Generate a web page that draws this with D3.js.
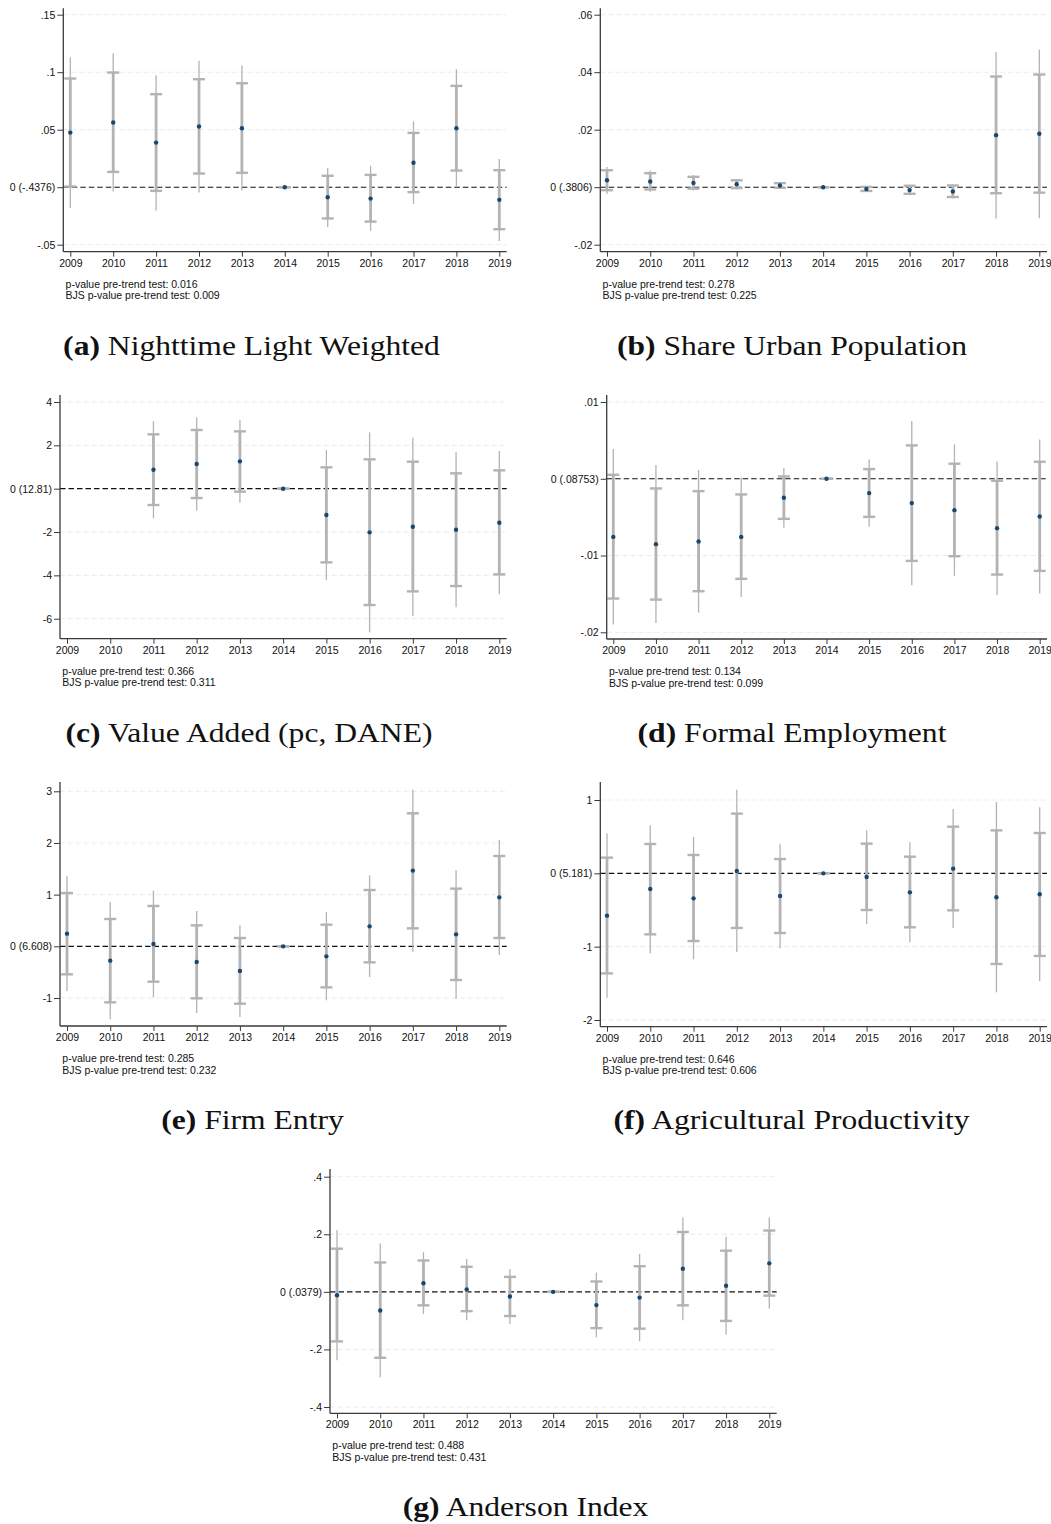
<!DOCTYPE html>
<html><head><meta charset="utf-8">
<script src="https://cdn.jsdelivr.net/npm/d3@7"></script>
<style>body{margin:0;background:#fff} svg{display:block}</style>
</head><body>
<svg id="chart" width="1051" height="1524"></svg>
<script>
const years = [2009,2010,2011,2012,2013,2014,2015,2016,2017,2018,2019];

// (a) Nighttime Light Weighted
const aCoef  = [0.0475,0.0562,0.0388,0.0528,0.0513,0,-0.0087,-0.0099,0.0212,0.0513,-0.0110];
const aInHi  = [0.0945,0.0997,0.0809,0.0939,0.0904,0,0.0099,0.0107,0.0472,0.0881,0.0148];
const aInLo  = [0.0006,0.0133,-0.0032,0.0119,0.0125,0,-0.0272,-0.0299,-0.0043,0.0145,-0.0365];
const aOutHi = [0.1130,0.1165,0.0974,0.1100,0.1058,0,0.0168,0.0186,0.0571,0.1026,0.0246];
const aOutLo = [-0.0180,-0.0038,-0.0203,-0.0046,-0.0029,0,-0.0345,-0.0380,-0.0145,0.0000,-0.0467];
const aTicks = [0.15,0.1,0.05,0,-0.05];
const aTickLabels = [".15",".1",".05","0 (-.4376)","-.05"];

// (b) Share Urban Population
const bCoef  = [0.00243,0.00197,0.0015,0.00104,0.0006,0,-0.0006,-0.0010,-0.0015,0.0181,0.0186];
const bInHi  = [0.0059,0.00487,0.0036,0.0024,0.0014,0,0.0001,0.0005,0.0006,0.0385,0.0392];
const bInLo  = [-0.00104,-0.0008,-0.0005,-0.0003,-0.0002,0,-0.0013,-0.0023,-0.0034,-0.0021,-0.0019];
const bOutHi = [0.0070,0.0058,0.0042,0.0028,0.0016,0,0.0003,0.0008,0.0009,0.0470,0.0479];
const bOutLo = [-0.0023,-0.0017,-0.0012,-0.0007,-0.0005,0,-0.0015,-0.0028,-0.0039,-0.0109,-0.0108];
const bTicks = [0.06,0.04,0.02,0,-0.02];
const bTickLabels = [".06",".04",".02","0 (.3806)","-.02"];

// (c) Value Added (pc, DANE)
const cCoef  = [null,null,0.877,1.138,1.262,0,-1.215,-2.015,-1.754,-1.892,-1.569];
const cInHi  = [null,null,2.508,2.708,2.646,0,0.985,1.354,1.246,0.708,0.846];
const cInLo  = [null,null,-0.754,-0.431,-0.138,0,-3.400,-5.369,-4.738,-4.492,-3.954];
const cOutHi = [null,null,3.108,3.292,3.154,0,1.785,2.600,2.354,1.677,1.738];
const cOutLo = [null,null,-1.369,-1.015,-0.646,0,-4.215,-6.630,-5.877,-5.477,-4.877];
const cTicks = [4,2,0,-2,-4,-6];
const cTickLabels = ["4","2","0 (12.81)","-2","-4","-6"];

// (d) Formal Employment
const dCoef  = [-0.00757,-0.00852,-0.00817,-0.00757,-0.00248,0,-0.00187,-0.00317,-0.00409,-0.00643,-0.00491];
const dInHi  = [0.00052,-0.00126,-0.00161,-0.00204,0.0003,0,0.00126,0.00435,0.00196,-0.00026,0.00222];
const dInLo  = [-0.0156,-0.01574,-0.01465,-0.01304,-0.00522,0,-0.00496,-0.0107,-0.01009,-0.01248,-0.0120];
const dOutHi = [0.00387,0.00178,0.00113,0.00017,0.00139,0,0.00252,0.00752,0.00448,0.00226,0.00513];
const dOutLo = [-0.0190,-0.01878,-0.01743,-0.01539,-0.00639,0,-0.00626,-0.01387,-0.01265,-0.01513,-0.01496];
const dTicks = [0.01,0,-0.01,-0.02];
const dTickLabels = [".01","0 (.08753)","-.01","-.02"];

// (e) Firm Entry
const eCoef  = [0.245,-0.277,0.045,-0.303,-0.477,0,-0.194,0.387,1.465,0.232,0.948];
const eInHi  = [1.032,0.529,0.781,0.406,0.161,0,0.419,1.090,2.574,1.116,1.748];
const eInLo  = [-0.542,-1.084,-0.684,-1.006,-1.110,0,-0.794,-0.310,0.348,-0.652,0.161];
const eOutHi = [1.355,0.858,1.077,0.684,0.406,0,0.665,1.374,3.032,1.471,2.058];
const eOutLo = [-0.865,-1.413,-0.987,-1.290,-1.368,0,-1.045,-0.594,-0.103,-1.013,-0.168];
const eTicks = [3,2,1,0,-1];
const eTickLabels = ["3","2","1","0 (6.608)","-1"];

// (f) Agricultural Productivity
const fCoef  = [-0.577,-0.214,-0.341,0.032,-0.309,0,-0.050,-0.259,0.064,-0.327,-0.286];
const fInHi  = [0.214,0.400,0.250,0.814,0.195,0,0.405,0.227,0.636,0.586,0.550];
const fInLo  = [-1.364,-0.832,-0.923,-0.745,-0.814,0,-0.500,-0.736,-0.505,-1.236,-1.127];
const fOutHi = [0.545,0.655,0.495,1.141,0.405,0,0.586,0.423,0.877,0.973,0.900];
const fOutLo = [-1.695,-1.091,-1.173,-1.073,-1.023,0,-0.691,-0.941,-0.745,-1.623,-1.473];
const fTicks = [1,0,-1,-2];
const fTickLabels = ["1","0 (5.181)","-1","-2"];

// (g) Anderson Index
const gCoef  = [-0.0116,-0.0647,0.030,0.008,-0.016,0,-0.046,-0.020,0.080,0.021,0.099];
const gInHi  = [0.150,0.102,0.109,0.087,0.052,0,0.036,0.089,0.208,0.143,0.213];
const gInLo  = [-0.172,-0.229,-0.047,-0.067,-0.084,0,-0.126,-0.128,-0.047,-0.101,-0.013];
const gOutHi = [0.214,0.169,0.138,0.114,0.079,0,0.067,0.132,0.258,0.191,0.258];
const gOutLo = [-0.238,-0.297,-0.077,-0.099,-0.112,0,-0.158,-0.172,-0.099,-0.149,-0.058];
const gTicks = [0.4,0.2,0,-0.2,-0.4];
const gTickLabels = [".4",".2","0 (.0379)","-.2","-.4"];

const pvals    = ["0.016","0.278","0.366","0.134","0.285","0.646","0.488"];
const bjsPvals = ["0.009","0.225","0.311","0.099","0.232","0.606","0.431"];
const captionTags = ["(a)","(b)","(c)","(d)","(e)","(f)","(g)"];
const captionTexts = ["Nighttime Light Weighted","Share Urban Population","Value Added (pc, DANE)",
  "Formal Employment","Firm Entry","Agricultural Productivity","Anderson Index"];

const series = [
  [aCoef,aInLo,aInHi,aOutLo,aOutHi,aTicks,aTickLabels],
  [bCoef,bInLo,bInHi,bOutLo,bOutHi,bTicks,bTickLabels],
  [cCoef,cInLo,cInHi,cOutLo,cOutHi,cTicks,cTickLabels],
  [dCoef,dInLo,dInHi,dOutLo,dOutHi,dTicks,dTickLabels],
  [eCoef,eInLo,eInHi,eOutLo,eOutHi,eTicks,eTickLabels],
  [fCoef,fInLo,fInHi,fOutLo,fOutHi,fTicks,fTickLabels],
  [gCoef,gInLo,gInHi,gOutLo,gOutHi,gTicks,gTickLabels]
];

// layout (pixels)
const layouts = [
  {ax:63.3,  top:8.3,   bot:251.7,  yr:[244.7,14.7],  xr:[70.3,499.3],  right:506.7, capX:251.5, capY:355},
  {ax:600.3, top:8.3,   bot:251.7,  yr:[244.7,14.7],  xr:[607,1039.3],  right:1047,  capX:792,   capY:355},
  {ax:60,    top:395,   bot:638.7,  yr:[618.7,402],   xr:[67,499.3],    right:506.7, capX:249,   capY:742},
  {ax:606.7, top:395,   bot:639,    yr:[632.3,402],   xr:[613.3,1039.7],right:1047,  capX:792,   capY:742},
  {ax:60,    top:782,   bot:1026,   yr:[998,791.3],   xr:[67,499.3],    right:506.7, capX:252.5, capY:1129},
  {ax:600.3, top:782,   bot:1026.7, yr:[1020,800],    xr:[607,1039.7],  right:1047,  capX:791.5, capY:1129},
  {ax:330,   top:1169,  bot:1413.3, yr:[1407,1176.7], xr:[337,769.3],   right:776.7, capX:525.5, capY:1516}
];
const refCaptionWidthA = 377; // width of caption (a) in the reference, used for a uniform horizontal scale

const CI = "#b3b3b3", PT = "#1a476f", AXIS = "#3a3a3a";
const sans = "'Liberation Sans', Arial, Helvetica, sans-serif";
const svg = d3.select("#chart");
svg.append("rect").attr("width",1051).attr("height",1524).attr("fill","#fff");

const captionNodes = [];

series.forEach((s, k) => {
  const [coef, inLo, inHi, outLo, outHi, ticks, tickLabels] = s;
  const L = layouts[k];
  const g = svg.append("g");
  const x = d3.scaleLinear().domain([2009, 2019]).range(L.xr);
  const y = d3.scaleLinear().domain([d3.min(ticks), d3.max(ticks)]).range(L.yr);

  // gridlines
  g.selectAll(".grid").data(ticks.filter(t => t !== 0)).join("line")
    .attr("x1", L.ax).attr("x2", L.right)
    .attr("y1", d => y(d)).attr("y2", d => y(d))
    .attr("stroke", "#e6e6e6").attr("stroke-width", 0.8).attr("stroke-dasharray", "5,3");

  // zero line
  g.append("line").attr("x1", L.ax).attr("x2", L.right)
    .attr("y1", y(0)).attr("y2", y(0))
    .attr("stroke", "#111").attr("stroke-width", 1.15).attr("stroke-dasharray", "5.5,3");

  const idx = years.map((d, i) => i).filter(i => coef[i] !== null);

  // outer CI (thin)
  g.selectAll(".out").data(idx).join("line")
    .attr("x1", i => x(years[i])).attr("x2", i => x(years[i]))
    .attr("y1", i => y(outLo[i])).attr("y2", i => y(outHi[i]))
    .attr("stroke", CI).attr("stroke-width", 1.3);

  // inner CI (thick)
  g.selectAll(".in").data(idx).join("line")
    .attr("x1", i => x(years[i])).attr("x2", i => x(years[i]))
    .attr("y1", i => y(inLo[i])).attr("y2", i => y(inHi[i]))
    .attr("stroke", CI).attr("stroke-width", 2.8);

  // caps
  const caps = [];
  idx.forEach(i => { caps.push([years[i], inLo[i]]); caps.push([years[i], inHi[i]]); });
  g.selectAll(".cap").data(caps).join("line")
    .attr("x1", d => x(d[0]) - 6).attr("x2", d => x(d[0]) + 6)
    .attr("y1", d => y(d[1])).attr("y2", d => y(d[1]))
    .attr("stroke", CI).attr("stroke-width", 2.4);

  // points
  g.selectAll(".pt").data(idx).join("circle")
    .attr("cx", i => x(years[i])).attr("cy", i => y(coef[i]))
    .attr("r", 2.2).attr("fill", PT);

  // y axis
  const ya = g.append("g").attr("transform", `translate(${L.ax},0)`)
    .call(d3.axisLeft(y).tickValues(ticks).tickFormat((d, i) => tickLabels[i]).tickSize(6).tickPadding(2));
  ya.select(".domain").remove();
  ya.selectAll("line").attr("stroke", AXIS).attr("stroke-width", 1);
  ya.selectAll("text").attr("font-family", sans).attr("font-size", 10.5).attr("fill", "#111");
  g.append("line").attr("x1", L.ax).attr("x2", L.ax).attr("y1", L.top).attr("y2", L.bot)
    .attr("stroke", AXIS).attr("stroke-width", 1.3);

  // x axis
  const xa = g.append("g").attr("transform", `translate(0,${L.bot})`)
    .call(d3.axisBottom(x).tickValues(years).tickFormat(d3.format("d")).tickSize(5).tickPadding(2.5));
  xa.select(".domain").remove();
  xa.selectAll("line").attr("stroke", AXIS).attr("stroke-width", 1);
  xa.selectAll("text").attr("font-family", sans).attr("font-size", 10.5).attr("fill", "#111");
  g.append("line").attr("x1", L.ax).attr("x2", L.right).attr("y1", L.bot).attr("y2", L.bot)
    .attr("stroke", AXIS).attr("stroke-width", 1.3);

  // notes
  g.append("text").attr("x", L.ax + 2.3).attr("y", L.bot + 36)
    .attr("font-family", sans).attr("font-size", 10.5).attr("fill", "#111")
    .text("p-value pre-trend test: " + pvals[k]);
  g.append("text").attr("x", L.ax + 2.3).attr("y", L.bot + 47.5)
    .attr("font-family", sans).attr("font-size", 10.5).attr("fill", "#111")
    .text("BJS p-value pre-trend test: " + bjsPvals[k]);

  // caption
  const cap = svg.append("text")
    .attr("text-anchor", "middle")
    .attr("font-family", "'Liberation Serif', 'DejaVu Serif', serif")
    .attr("font-size", 27).attr("fill", "#111");
  cap.append("tspan").attr("font-weight", "bold").text(captionTags[k]);
  cap.append("tspan").text(" " + captionTexts[k]);
  captionNodes.push([cap, L]);
});

// uniform horizontal scale for captions (Palatino-like width)
const natA = captionNodes[0][0].node().getComputedTextLength();
const sx = natA > 0 ? refCaptionWidthA / natA : 1;
captionNodes.forEach(([cap, L]) => {
  cap.attr("transform", `translate(${L.capX},${L.capY}) scale(${sx},1)`);
});
</script>
</body></html>
